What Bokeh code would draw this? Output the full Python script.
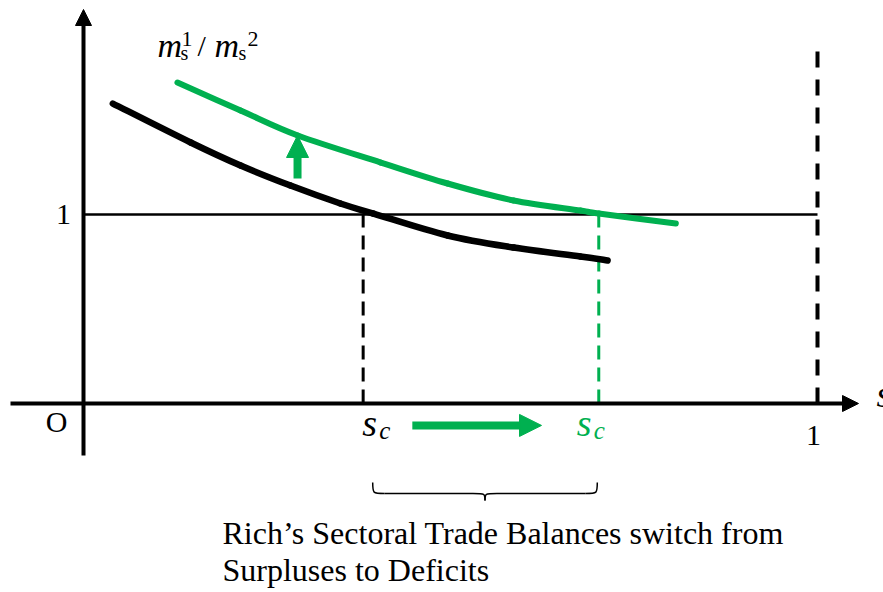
from bokeh.plotting import figure
from bokeh.models import Range1d, Arrow, NormalHead, Label
from bokeh.embed import file_html
from bokeh.resources import INLINE

# ---- schematic data: share s on x, ratio m_s^1 / m_s^2 on y ----
s_black = [0.040, 0.146, 0.214, 0.282, 0.350, 0.395, 0.496, 0.586, 0.677, 0.714]
ratio_black = [1.587, 1.381, 1.259, 1.153, 1.058, 1.005, 0.889, 0.825, 0.778, 0.757]
s_green = [0.128, 0.214, 0.292, 0.405, 0.496, 0.586, 0.677, 0.702, 0.807]
ratio_green = [1.698, 1.550, 1.418, 1.275, 1.164, 1.074, 1.021, 1.005, 0.952]
sc_black = 0.381
sc_green = 0.702
parity = 1.0
s_max = 1.0
shift_s = 0.2916
shift_from, shift_to = 1.19, 1.418
move_y = -0.116
move_from, move_to = 0.448, 0.624
brace_from, brace_to = 0.394, 0.700
caption = ["Rich\u2019s Sectoral Trade Balances switch from", "Surpluses to Deficits"]

GREEN = "#00B050"
FONT = "Liberation Serif"
IFONT = "'Liberation Serif', 'Times New Roman', serif"

W, H = 883, 592
XS, YS = 734.0, 189.0          # pixels per data unit
OX, OY = 83.0, 403.0           # origin position on the canvas
X0, X1 = -OX / XS, (W - OX) / XS
Y0, Y1 = (OY - H) / YS, OY / YS

p = figure(width=W, height=H, x_range=Range1d(X0, X1), y_range=Range1d(Y0, Y1),
           output_backend="svg", toolbar_location=None,
           x_axis_location=None, y_axis_location=None, min_border=0)
p.grid.visible = False
p.outline_line_color = None
p.background_fill_color = "white"


def px(dx):
    return dx / XS


def py(dy):
    return dy / YS


def smooth(xs, ys, color, width):
    """Draw a smooth curve through the given points (Catmull-Rom as Bezier pieces)."""
    n = len(xs)
    x0, y0, x1, y1, c0x, c0y, c1x, c1y = [], [], [], [], [], [], [], []
    for i in range(n - 1):
        xa, ya = xs[max(i - 1, 0)], ys[max(i - 1, 0)]
        xb, yb = xs[i], ys[i]
        xc, yc = xs[i + 1], ys[i + 1]
        xd, yd = xs[min(i + 2, n - 1)], ys[min(i + 2, n - 1)]
        x0.append(xb); y0.append(yb); x1.append(xc); y1.append(yc)
        c0x.append(xb + (xc - xa) / 6); c0y.append(yb + (yc - ya) / 6)
        c1x.append(xc - (xd - xb) / 6); c1y.append(yc - (yd - yb) / 6)
    p.bezier(x0=x0, y0=y0, x1=x1, y1=y1, cx0=c0x, cy0=c0y, cx1=c1x, cy1=c1y,
             line_color=color, line_width=width, line_cap="round")


# axes with arrow heads
p.add_layout(Arrow(x_start=px(-73), y_start=0, x_end=px(775), y_end=0,
                   line_width=4, line_color="black",
                   end=NormalHead(size=16, fill_color="black", line_color="black")))
p.add_layout(Arrow(x_start=0, y_start=py(-52), x_end=0, y_end=py(394),
                   line_width=4, line_color="black",
                   end=NormalHead(size=16, fill_color="black", line_color="black")))

# parity line
p.line([0, s_max], [parity, parity], line_color="black", line_width=2.5)

# dashed verticals
p.line([s_max, s_max], [0, py(354)], line_color="black", line_width=4, line_dash="16 12")
p.line([sc_black, sc_black], [0, parity], line_color="black", line_width=3, line_dash="14 8")
p.line([sc_green, sc_green], [0, parity], line_color=GREEN, line_width=3, line_dash="14 8")

# curves
smooth(s_black, ratio_black, "black", 6.5)
smooth(s_green, ratio_green, GREEN, 6)

# green shift arrows
p.add_layout(Arrow(x_start=shift_s, y_start=shift_from, x_end=shift_s, y_end=shift_to,
                   line_width=8, line_color=GREEN,
                   end=NormalHead(size=22, fill_color=GREEN, line_color=GREEN)))
p.add_layout(Arrow(x_start=move_from, y_start=move_y, x_end=move_to, y_end=move_y,
                   line_width=8, line_color=GREEN,
                   end=NormalHead(size=22, fill_color=GREEN, line_color=GREEN)))

# curly brace under the interval
y_end = py(-79)
y_mid = py(-90)
y_tip = py(-97)
xc = (brace_from + brace_to) / 2
d = px(12)
bx0, by0, bx1, by1, cx0, cy0, cx1, cy1 = [], [], [], [], [], [], [], []
for a, sgn in ((brace_from, 1), (brace_to, -1)):
    bx0.append(a); by0.append(y_end)
    bx1.append(a + sgn * d); by1.append(y_mid)
    cx0.append(a); cy0.append(y_mid)
    cx1.append(a); cy1.append(y_mid)
    bx0.append(xc - sgn * d); by0.append(y_mid)
    bx1.append(xc); by1.append(y_tip)
    cx0.append(xc); cy0.append(y_mid)
    cx1.append(xc); cy1.append(y_mid)
p.bezier(x0=bx0, y0=by0, x1=bx1, y1=by1, cx0=cx0, cy0=cy0, cx1=cx1, cy1=cy1,
         line_color="black", line_width=1.5)
p.segment(x0=[brace_from + d, xc + d], y0=[y_mid, y_mid],
          x1=[xc - d, brace_to - d], y1=[y_mid, y_mid],
          line_color="black", line_width=1.5)


def lab(text, x, y, size, color="black", style="normal", align="left"):
    p.add_layout(Label(x=x, y=y, text=text,
                       text_font=IFONT if style == "italic" else FONT,
                       text_font_size=f"{size}px",
                       text_font_style=style, text_color=color,
                       text_align=align, text_baseline="middle"))


# axis texts
lab("O", px(-27), py(-18), 30, align="center")
lab("1", px(-20), parity, 30, align="center")
lab("1", s_max + px(-4), py(-32), 30, align="center")
lab("s", px(793), py(10), 38, style="italic")

# s_c labels
lab("s", sc_black + px(-1), py(-19), 38, style="italic")
lab("c", sc_black + px(16), py(-27), 25, style="italic")
lab("s", sc_green + px(-22), py(-19), 38, color=GREEN, style="italic")
lab("c", sc_green + px(-5), py(-27), 25, color=GREEN, style="italic")

# y label m_s^1 / m_s^2
lab("m", px(74), py(358), 34, style="italic")
lab("s", px(97), py(351), 20)
lab("1", px(98), py(365), 22)
lab("/", px(114), py(358), 30)
lab("m", px(131), py(358), 34, style="italic")
lab("s", px(155), py(351), 20)
lab("2", px(164), py(365), 22)

# caption
lab(caption[0], px(139), py(-129), 32)
lab(caption[1], px(139), py(-166), 32)

open("out.html", "w").write(file_html(p, INLINE))
